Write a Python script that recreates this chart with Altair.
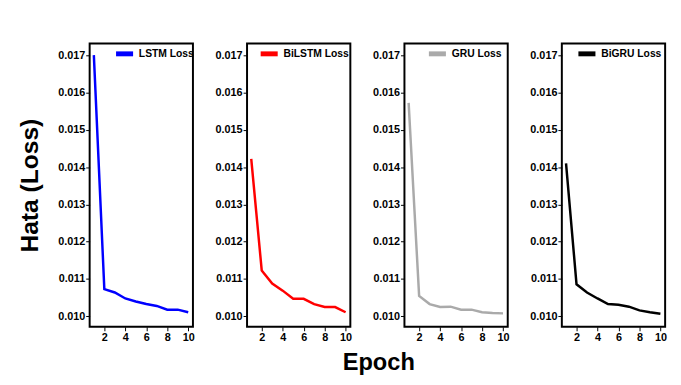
import altair as alt
import pandas as pd

epochs = list(range(1, 11))
models = ["LSTM Loss", "BiLSTM Loss", "GRU Loss", "BiGRU Loss"]
colors = ["#0000ff", "#ff0000", "#aaaaaa", "#000000"]
lstm = [0.01700, 0.01073, 0.01064, 0.01048, 0.01040, 0.01033, 0.01028, 0.01018, 0.01018, 0.01011]
bilstm = [0.01422, 0.01123, 0.01088, 0.01069, 0.01047, 0.01047, 0.01033, 0.01025, 0.01025, 0.01011]
gru = [0.01572, 0.01055, 0.01033, 0.01025, 0.01026, 0.01018, 0.01018, 0.01011, 0.01009, 0.01008]
bigru = [0.01410, 0.01086, 0.01064, 0.01048, 0.01033, 0.01031, 0.01026, 0.01016, 0.01011, 0.01007]
series = [lstm, bilstm, gru, bigru]
y_ticks = [0.010, 0.011, 0.012, 0.013, 0.014, 0.015, 0.016, 0.017]
x_ticks = [2, 4, 6, 8, 10]

FONT = "Liberation Sans"
LEGEND_X = [24, 11, 22, 14]


def panel(i):
    df = pd.DataFrame({"Epoch": epochs, "Loss": series[i], "Model": models[i]})
    y_title = "Hata (Loss)" if i == 0 else None
    yax = dict(
        values=y_ticks, format=".3f", domain=False, tickColor="black", tickSize=4,
        labelFont=FONT, labelFontSize=11, labelFontWeight="bold", labelColor="black",
        labelPadding=1, grid=False,
    )
    if y_title:
        yax.update(title=y_title, titleFont=FONT, titleFontSize=25, titleFontWeight="bold",
                   titleColor="black", titlePadding=15)
    else:
        yax.update(title=None)
    return alt.Chart(df).mark_line(strokeWidth=2.5).encode(
        x=alt.X("Epoch:Q", scale=alt.Scale(domain=[0.6, 10.45], nice=False, zero=False),
                axis=alt.Axis(values=x_ticks, title=None, domain=False, tickColor="black",
                              tickSize=4, labelFont=FONT, labelFontSize=11,
                              labelFontWeight="bold", labelColor="black", labelPadding=1,
                              grid=False)),
        y=alt.Y("Loss:Q", scale=alt.Scale(domain=[0.00972, 0.01731], nice=False, zero=False),
                axis=alt.Axis(**yax)),
        color=alt.Color("Model:N", scale=alt.Scale(domain=[models[i]], range=[colors[i]]),
                        legend=alt.Legend(title=None, orient="none", legendX=LEGEND_X[i],
                                          legendY=-1,
                                          symbolType="stroke", symbolSize=300,
                                          symbolStrokeWidth=5, labelFont=FONT,
                                          labelFontSize=10.5, labelFontWeight="bold",
                                          labelColor="black", padding=0, labelOffset=3,
                                          rowPadding=0)),
    ).properties(width=105, height=288)


chart = alt.hconcat(*[panel(i) for i in range(4)], spacing=18).resolve_scale(
    color="independent"
).properties(
    title=alt.TitleParams("Epoch", orient="bottom", anchor="middle", font=FONT, fontSize=24,
                          fontWeight="bold", color="black", dx=37, offset=8),
    padding={"left": 9, "top": 31, "right": 5, "bottom": 5},
).configure_view(stroke="black", strokeWidth=2)

chart.save("out.html", embed_options={"renderer": "svg", "actions": False})
